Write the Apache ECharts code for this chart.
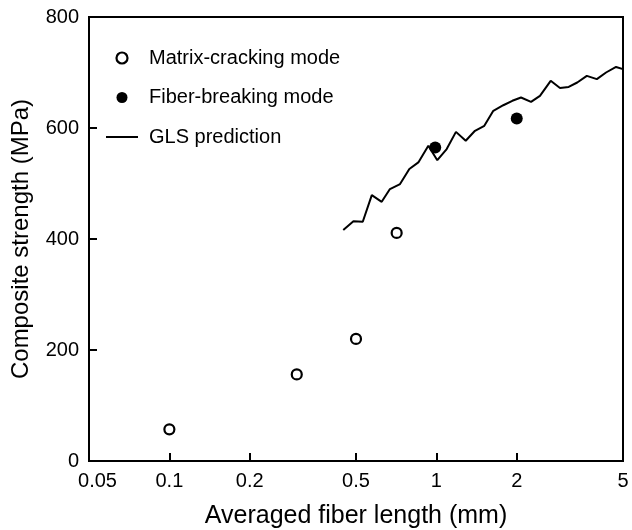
<!DOCTYPE html>
<html>
<head>
<meta charset="utf-8">
<script src="https://cdn.jsdelivr.net/npm/echarts@6/dist/echarts.min.js"></script>
<style>html,body{margin:0;padding:0;background:#fff}#c{width:632px;height:530px}</style>
</head>
<body>
<div id="c"></div>
<script>
// Data
const matrixX = [0.1, 0.3, 0.5, 0.71];
const matrixY = [57, 156, 220, 411];
const fiberX = [0.99, 2.0];
const fiberY = [565, 617];
const glsX = [0.448, 0.489, 0.530, 0.573, 0.624, 0.670, 0.731, 0.792, 0.856, 0.933, 1.008, 1.093, 1.184, 1.288, 1.395, 1.512, 1.634, 1.781, 1.925, 2.075, 2.262, 2.443, 2.680, 2.904, 3.13, 3.37, 3.66, 3.99, 4.32, 4.71, 5.0];
const glsY = [416, 432, 431, 479, 467, 490, 499, 526, 538, 568, 542, 562, 593, 577, 595, 604, 631, 641, 649, 655, 647, 658, 685, 672, 674, 682, 694, 688, 700, 710, 706];
const xTicks = [0.05, 0.1, 0.2, 0.5, 1, 2, 5];
const yTicks = [0, 200, 400, 600, 800];
const seriesNames = ['Matrix-cracking mode', 'Fiber-breaking mode', 'GLS prediction'];
const xTitle = 'Averaged fiber length (mm)';
const yTitle = 'Composite strength (MPa)';

const zip = (a, b) => a.map((v, i) => [v, b[i]]);
const FONT = 'Liberation Sans, Arial, sans-serif';

const chart = echarts.init(document.getElementById('c'));
chart.setOption({
  animation: false,
  backgroundColor: '#fff',
  textStyle: { fontFamily: FONT, color: '#000' },
  grid: { left: 89, right: 9, top: 17, bottom: 69, show: true, borderColor: '#000', borderWidth: 2, containLabel: false, outerBoundsMode: 'none' },
  legend: {
    orient: 'vertical',
    left: 105,
    top: 48,
    padding: 0,
    itemWidth: 32,
    itemHeight: 11,
    itemGap: 19.5,
    textStyle: { fontFamily: FONT, fontSize: 20, color: '#000', padding: [0, 0, 0, 6] },
    data: [
      { name: seriesNames[0], icon: 'circle', itemStyle: { color: '#fff', borderColor: '#000', borderWidth: 2.2, opacity: 1 } },
      { name: seriesNames[1], icon: 'circle', itemStyle: { color: '#000', opacity: 1 } },
      { name: seriesNames[2], itemStyle: { opacity: 0 }, lineStyle: { color: '#000', width: 2 } }
    ]
  },
  xAxis: {
    type: 'log',
    logBase: 10,
    min: 0.05,
    max: 5,
    name: xTitle,
    nameLocation: 'middle',
    nameGap: 43,
    nameTextStyle: { fontFamily: FONT, fontSize: 25, color: '#000' },
    axisLine: { lineStyle: { color: '#000', width: 2 } },
    axisTick: { inside: true, length: 8, lineStyle: { color: '#000', width: 2 }, customValues: xTicks },
    axisLabel: {
      fontFamily: FONT, fontSize: 20, color: '#000', margin: 10, customValues: xTicks,
      formatter: v => {
        const s = String(+(+v).toPrecision(3));
        return s === '0.05' ? '{a|' + s + '}' : s;
      },
      rich: { a: { fontFamily: FONT, fontSize: 20, color: '#000', padding: [0, 0, 0, 17] } }
    },
    splitLine: { show: false },
    minorTick: { show: false }
  },
  yAxis: {
    type: 'value',
    min: 0,
    max: 800,
    interval: 200,
    name: yTitle,
    nameLocation: 'middle',
    nameGap: 56,
    nameTextStyle: { fontFamily: FONT, fontSize: 24, color: '#000' },
    axisLine: { show: true, lineStyle: { color: '#000', width: 2 } },
    axisTick: { show: true, inside: true, length: 8, lineStyle: { color: '#000', width: 2 }, customValues: yTicks },
    axisLabel: { fontFamily: FONT, fontSize: 20, color: '#000', margin: 10, customValues: yTicks },
    splitLine: { show: false }
  },
  series: [
    {
      name: seriesNames[0], type: 'scatter', data: zip(matrixX, matrixY),
      symbol: 'circle', symbolSize: 10,
      itemStyle: { color: '#fff', borderColor: '#000', borderWidth: 2.2, opacity: 1 }
    },
    {
      name: seriesNames[1], type: 'scatter', data: zip(fiberX, fiberY),
      symbol: 'circle', symbolSize: 12,
      itemStyle: { color: '#000', opacity: 1 }
    },
    {
      name: seriesNames[2], type: 'line', data: zip(glsX, glsY),
      symbol: 'none', showSymbol: false,
      lineStyle: { color: '#000', width: 2 },
      itemStyle: { color: '#000' },
      clip: true
    }
  ]
});
</script>
</body>
</html>
